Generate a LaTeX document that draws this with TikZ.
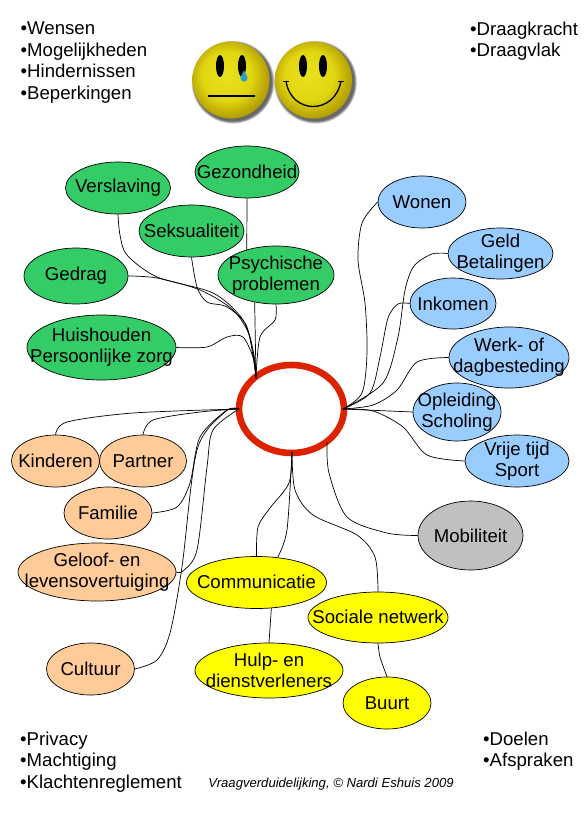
\documentclass[tikz,border=0pt]{standalone}
\usepackage{fontspec}
\setmainfont{Liberation Sans}
\usetikzlibrary{shapes.geometric,calc}
\definecolor{greencolor}{RGB}{51,204,102}
\definecolor{bluecolor}{RGB}{153,204,255}
\definecolor{orangecolor}{RGB}{255,204,153}
\definecolor{yellowcolor}{RGB}{255,255,0}
\definecolor{graycolor}{RGB}{192,192,192}
\definecolor{ringcolor}{RGB}{221,34,0}
\definecolor{tearcolor}{RGB}{40,160,200}
\definecolor{smilea}{RGB}{232,226,30}
\definecolor{smileb}{RGB}{226,214,16}
\definecolor{smilec}{RGB}{186,166,4}
\definecolor{smiled}{RGB}{170,145,0}
\pgfdeclareradialshading{smileshade}{\pgfpoint{-4bp}{4bp}}{%
  color(0bp)=(smilea);
  color(16bp)=(smileb);
  color(25bp)=(smilec);
  color(30bp)=(smiled);
  color(50bp)=(smiled)}
\tikzset{
  bubble/.style={ellipse, draw=black, line width=0.7pt, inner sep=0pt},
  sz/.style 2 args={minimum width=#1pt, minimum height=#2pt},
  bubtext/.style={font=\fontsize{18.6}{21}\selectfont, align=center, inner sep=0pt, text=black},
  listtext/.style={font=\fontsize{18.6}{21.6}\selectfont, align=left, anchor=north west, inner sep=0pt},
  linkln/.style={line width=0.7pt, line join=round},
}
\newcommand{\bub}[4]{%
  \node[bubble,#1] (#2) at (#3) {};
  \node[bubtext] (#2text) at (#2) {#4};
}
\newcommand{\smiley}[1]{%
  \foreach \r in {39,39.6,40.2,40.8,41.4}
    \fill[black, opacity=0.16] ($(#1)+(2,2.2)$) circle (\r);
  \shade[shading=smileshade] (#1) circle (38.5);
}
\begin{document}
\begin{tikzpicture}[x=1pt,y=-1pt]
  \useasboundingbox[fill=white] (0,0) rectangle (585,814);
  % lists in the corners
  \node[listtext] (wishes) at (20.5,21.7) {•Wensen\\•Mogelijkheden\\•Hindernissen\\•Beperkingen};
  \node[listtext] (strength) at (470,21.7) {•Draagkracht\\•Draagvlak};
  \node[listtext] (privacy) at (20,731.5) {•Privacy\\•Machtiging\\•Klachtenreglement};
  \node[listtext] (goals) at (483,731.5) {•Doelen\\•Afspraken};
  \node[font=\fontsize{13.1}{15}\selectfont\itshape, inner sep=0pt] (credit) at (331,784)
    {Vraagverduidelijking, © Nardi Eshuis 2009};
  % smileys
  \smiley{231,80}
  \smiley{313.5,80}
  \fill (220,66) ellipse (4 and 11);
  \fill (242,66) ellipse (4 and 11);
  \fill[tearcolor] (244,78) circle (3.6);
  \fill[tearcolor] (241.2,76) -- (244,70.5) -- (246.8,76) -- cycle;
  \draw[line width=1.2pt] (208,96) -- (255,96);
  \fill (303,66) ellipse (4 and 11);
  \fill (323,66) ellipse (4 and 11);
  \draw[line width=1.3pt] (286,81) .. controls (291,115) and (335,115) .. (341,81);
  \draw[line width=1.3pt] (283,81.5) -- (289,81.5);
  \draw[line width=1.3pt] (338,81.5) -- (344,81.5);
  % centre ring
  \node[ellipse, draw=ringcolor, line width=6.6pt, fill=white, minimum width=105pt, minimum height=88pt, inner sep=0pt] (ring) at (291.5,409) {};
  \coordinate (hubtop) at (256,378);
  \coordinate (hubright) at (343,409);
  \coordinate (hubleft) at (239,409);
  \coordinate (hubbottom) at (292,452);
  \coordinate (hubmob) at (327,442);
  % green
  \bub{sz={104}{52},fill=greencolor}{gezondheid}{247,172}{Gezondheid}
  \bub{sz={105}{52},fill=greencolor}{verslaving}{118,188}{Verslaving}
  \bub{sz={105}{52},fill=greencolor}{seksualiteit}{191.5,231}{Seksualiteit}
  \bub{sz={116}{58},fill=greencolor}{psychisch}{276,275}{Psychische\\problemen}
  \bub{sz={104}{56},fill=greencolor}{gedrag}{76,276}{Gedrag}
  \bub{sz={149}{65},fill=greencolor}{huishouden}{101.5,347.5}{Huishouden\\Persoonlijke zorg}
  % blue
  \bub{sz={88}{52},fill=bluecolor}{wonen}{422,202}{Wonen}
  \bub{sz={105}{51},fill=bluecolor}{geld}{500.5,253.5}{Geld\\Betalingen}
  \bub{sz={86}{51},fill=bluecolor}{inkomen}{453,303.5}{Inkomen}
  \bub{sz={120}{61},fill=bluecolor}{werk}{509,357.5}{Werk- of\\dagbesteding}
  \bub{sz={88}{58},fill=bluecolor}{opleiding}{457,412}{Opleiding\\Scholing}
  \bub{sz={104}{52},fill=bluecolor}{vrijetijd}{517,461}{Vrije tijd\\Sport}
  \bub{sz={105}{69},fill=graycolor}{mobiliteit}{470.5,535.5}{Mobiliteit}
  % orange
  \bub{sz={88}{52},fill=orangecolor}{kinderen}{55.5,461}{Kinderen}
  \bub{sz={87}{52},fill=orangecolor}{partner}{143,461}{Partner}
  \bub{sz={88}{52},fill=orangecolor}{familie}{108,513}{Familie}
  \bub{sz={158}{58},fill=orangecolor}{geloof}{97,572}{Geloof- en\\levensovertuiging}
  \bub{sz={88}{52},fill=orangecolor}{cultuur}{90.5,669}{Cultuur}
  % yellow
  \bub{sz={140}{52},fill=yellowcolor}{communicatie}{256.5,582.5}{\raisebox{1.5pt}{Communicatie}}
  \bub{sz={140}{51},fill=yellowcolor}{sociale}{378,617.5}{\raisebox{1.5pt}{Sociale netwerk}}
  \bub{sz={148}{55},fill=yellowcolor}{hulp}{269,670.5}{Hulp- en\\dienstverleners}
  \bub{sz={88}{52},fill=yellowcolor}{buurt}{387,703}{Buurt}
  % links at the top
  \draw[linkln] plot[smooth] coordinates {(verslaving.south) (120,235) (127,255) (157,277) (213,293) (243,320) (254,355) (hubtop)};
  \draw[linkln] plot[smooth] coordinates {(gedrag.east) (157,278) (200,290) (233,310) (250,337) (hubtop)};
  \draw[linkln] plot[smooth] coordinates {(seksualiteit.south) (197,287) (207,302) (227,307) (247,327) (hubtop)};
  \draw[linkln] (gezondheid.south) -- (psychisch.139);
  \draw[linkln] (psychisch.232) -- (hubtop);
  \draw[linkln] plot[smooth] coordinates {(psychisch.south) (275,320) (260,337) (hubtop)};
  \draw[linkln] plot[smooth] coordinates {(huishouden.east) (207,347) (227,337) (243,337) (254,360) (hubtop)};
  % links on the right
  \draw[linkln] plot[smooth] coordinates {(wonen.west) (362,223) (358,260) (365,303) (367,353) (362,393) (hubright)};
  \draw[linkln] plot[smooth] coordinates {(geld.west) (432,254) (414,266) (405,290) (398,337) (383,383) (hubright)};
  \draw[linkln] plot[smooth] coordinates {(inkomen.west) (398,304) (388,318) (380,357) (370,393) (hubright)};
  \draw[linkln] plot[smooth] coordinates {(werk.west) (417,362) (397,390) (373,405) (hubright)};
  \draw[linkln] (opleiding.west) -- (hubright);
  \draw[linkln] plot[smooth] coordinates {(vrijetijd.west) (427,455) (403,427) (373,411) (hubright)};
  % links on the left
  \draw[linkln] plot[smooth] coordinates {(kinderen.north) (67,422) (133,413) (hubleft)};
  \draw[linkln] plot[smooth] coordinates {(partner.north) (153,420) (200,412) (hubleft)};
  \draw[linkln] plot[smooth] coordinates {(familie.east) (177,507) (190,483) (200,437) (227,410) (hubleft)};
  \draw[linkln] plot[smooth] coordinates {(geloof.east) (183,571) (197,550) (207,467) (213,430) (hubleft)};
  \draw[linkln] plot[smooth] coordinates {(cultuur.east) (157,660) (170,633) (182,567) (197,450) (225,412) (hubleft)};
  % links at the bottom
  \draw[linkln] plot[smooth] coordinates {(communicatie.north) (258,527) (270,508) (289,483) (hubbottom)};
  \draw[linkln] plot[smooth] coordinates {(communicatie.50) (287,530) (hubbottom)};
  \draw[linkln] plot[smooth] coordinates {(sociale.north) (375,557) (357,535) (313,515) (295,490) (hubbottom)};
  \draw[linkln] (communicatie.-60) -- (hulp.north);
  \draw[linkln] plot[smooth] coordinates {(sociale.south) (380,657) (buurt.north)};
  \draw[linkln] plot[smooth] coordinates {(mobiliteit.west) (387,533) (347,517) (329,473) (hubmob)};
\end{tikzpicture}
\end{document}
